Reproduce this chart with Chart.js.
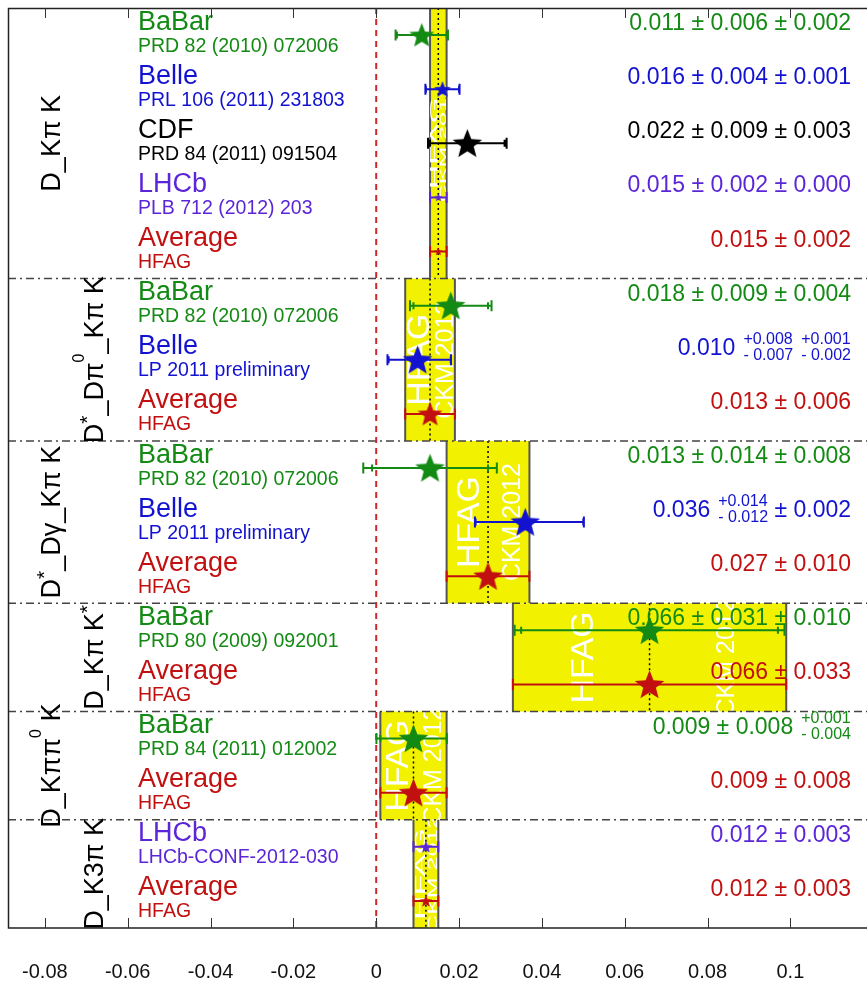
<!DOCTYPE html>
<html><head><meta charset="utf-8">
<script src="https://cdn.jsdelivr.net/npm/chart.js@4.4.1/dist/chart.umd.min.js"></script>
<style>html,body{margin:0;padding:0;background:#fff;} canvas{display:block;}</style>
</head><body>
<canvas id="c" width="867" height="987"></canvas>
<script>
// ---------------- data ----------------
const groupLabels = ['D_Kπ K','D^{*}_Dπ^{0}_Kπ K','D^{*}_Dγ_Kπ K','D_Kπ K^{*}','D_Kππ^{0} K','D_K3π K'];
const groupSizes  = [5,3,3,2,2,2];
const experiments = ['BaBar','Belle','CDF','LHCb','Average','BaBar','Belle','Average','BaBar','Belle','Average','BaBar','Average','BaBar','Average','LHCb','Average'];
const references  = ['PRD 82 (2010) 072006','PRL 106 (2011) 231803','PRD 84 (2011) 091504','PLB 712 (2012) 203','HFAG',
                     'PRD 82 (2010) 072006','LP 2011 preliminary','HFAG',
                     'PRD 82 (2010) 072006','LP 2011 preliminary','HFAG',
                     'PRD 80 (2009) 092001','HFAG',
                     'PRD 84 (2011) 012002','HFAG',
                     'LHCb-CONF-2012-030','HFAG'];
const values    = [0.011,0.016,0.022,0.015,0.015, 0.018,0.010,0.013, 0.013,0.036,0.027, 0.066,0.066, 0.009,0.009, 0.012,0.012];
const statPlus  = [0.006,0.004,0.009,0.002,0.002, 0.009,0.008,0.006, 0.014,0.014,0.010, 0.031,0.033, 0.008,0.008, 0.003,0.003];
const statMinus = [0.006,0.004,0.009,0.002,0.002, 0.009,0.007,0.006, 0.014,0.012,0.010, 0.031,0.033, 0.008,0.008, 0.003,0.003];
const systPlus  = [0.002,0.001,0.003,0.000,null, 0.004,0.001,null, 0.008,0.002,null, 0.010,null, 0.001,null, null,null];
const systMinus = [0.002,0.001,0.003,0.000,null, 0.004,0.002,null, 0.008,0.002,null, 0.010,null, 0.004,null, null,null];
const bandTexts = ['HFAG','CKM 2012'];
const tickValues = [-0.08,-0.06,-0.04,-0.02,0,0.02,0.04,0.06,0.08,0.1];
const tickLabels = ['-0.08','-0.06','-0.04','-0.02','0','0.02','0.04','0.06','0.08','0.1'];
const xRange = [-0.0889, 0.1185];

// ---------------- styles ----------------
const COLORS = {BaBar:'#138a13', Belle:'#1212d0', CDF:'#000000', LHCb:'#5a26d8', Average:'#c21010'};
const FONT = '"Liberation Sans", Arial, sans-serif';
const nRows = values.length;

const starCache = {};
function starCanvas(color, d){
  const key = color + '_' + d.toFixed(1);
  if (starCache[key]) return starCache[key];
  const s = Math.ceil(d) + 4;
  const c = document.createElement('canvas');
  c.width = s; c.height = s;
  const g = c.getContext('2d');
  const R = d/2, r = R*0.43, cx = s/2, cy = s/2 + R*0.08;
  g.beginPath();
  for (let k=0;k<10;k++){
    const rad = k%2===0 ? R : r;
    const a = -Math.PI/2 + k*Math.PI/5;
    const px = cx + rad*Math.cos(a), py = cy + rad*Math.sin(a);
    k===0 ? g.moveTo(px,py) : g.lineTo(px,py);
  }
  g.closePath(); g.fillStyle = color; g.fill();
  starCache[key] = c;
  return c;
}

function totErr(i, plus){
  const s = plus ? statPlus[i] : statMinus[i];
  const y = plus ? systPlus[i] : systMinus[i];
  return Math.sqrt(s*s + (y===null?0:y*y));
}

function parseRich(s){
  const out=[]; const re=/\^\{([^}]*)\}/g; let last=0, m;
  while((m=re.exec(s))){ if(m.index>last) out.push({t:s.slice(last,m.index),sup:false}); out.push({t:m[1],sup:true}); last=re.lastIndex; }
  if(last<s.length) out.push({t:s.slice(last),sup:false});
  return out;
}

function groupStarts(){ const st=[]; let a=0; groupSizes.forEach(n=>{st.push(a); a+=n;}); return st; }

function drawValueText(ctx, i, xRight, yBase, color){
  const big = '23px ' + FONT, small = '16px ' + FONT;
  const segs = [{type:'t', s: values[i].toFixed(3)}];
  const errs = [[statPlus[i], statMinus[i]]];
  if (systPlus[i] !== null) errs.push([systPlus[i], systMinus[i]]);
  errs.forEach(e=>{
    if (e[0] === e[1]) segs.push({type:'t', s:' \u00b1 ' + e[0].toFixed(3)});
    else segs.push({type:'st', up:'+' + e[0].toFixed(3), dn:'- ' + e[1].toFixed(3)});
  });
  let total = 0;
  segs.forEach(sg=>{
    if (sg.type==='t'){ ctx.font = big; sg.w = ctx.measureText(sg.s).width; }
    else { ctx.font = small; sg.w = 8 + Math.max(ctx.measureText(sg.up).width, ctx.measureText(sg.dn).width); }
    total += sg.w;
  });
  let xx = xRight - total;
  ctx.fillStyle = color; ctx.textAlign = 'left'; ctx.textBaseline = 'alphabetic';
  segs.forEach(sg=>{
    if (sg.type==='t'){ ctx.font = big; ctx.fillText(sg.s, xx, yBase); }
    else { ctx.font = small; ctx.fillText(sg.up, xx+8, yBase-11); ctx.fillText(sg.dn, xx+8, yBase+5); }
    xx += sg.w;
  });
}

const hfagPlugin = {
  id:'hfag',
  beforeDatasetsDraw(chart){
    const {ctx, chartArea:ca, scales:{x, y}} = chart;
    ctx.save();
    ctx.beginPath(); ctx.rect(ca.left, ca.top, ca.right-ca.left, ca.bottom-ca.top); ctx.clip();
    const starts = groupStarts();
    // bands
    starts.forEach((st,g)=>{
      const n = groupSizes[g], ai = st + n - 1;
      const x0 = x.getPixelForValue(values[ai]-statMinus[ai]);
      const x1 = x.getPixelForValue(values[ai]+statPlus[ai]);
      const xc = x.getPixelForValue(values[ai]);
      const y0 = y.getPixelForValue(st), y1 = y.getPixelForValue(st+n);
      ctx.fillStyle = '#f2f200';
      ctx.fillRect(x0, y0, x1-x0, y1-y0);
      ctx.strokeStyle = '#555'; ctx.lineWidth = 2; ctx.setLineDash([]);
      ctx.beginPath(); ctx.moveTo(x0,y0); ctx.lineTo(x0,y1); ctx.moveTo(x1,y0); ctx.lineTo(x1,y1); ctx.stroke();
      // band texts
      const w = x1-x0;
      ctx.save();
      ctx.beginPath(); ctx.rect(x0, y0, w, y1-y0); ctx.clip();
      ctx.fillStyle = '#ffffff';
      const specs = [
        {t:bandTexts[0], size:Math.max(10, Math.min(32, w*0.62)), cx:xc - 0.5*w/2, L:92},
        {t:bandTexts[1], size:Math.max(9, Math.min(25, w*0.5)), cx:xc + 0.55*w/2, L:118}
      ];
      specs.forEach(sp=>{
        ctx.save();
        ctx.font = sp.size.toFixed(1) + 'px ' + FONT;
        const mw = ctx.measureText(sp.t).width;
        const cap = sp.size*0.72;
        ctx.translate(sp.cx + cap/2, (y0+y1)/2);
        ctx.rotate(-Math.PI/2);
        ctx.scale(sp.L/mw, 1);
        ctx.textAlign = 'center'; ctx.textBaseline = 'alphabetic';
        ctx.fillText(sp.t, 0, 0);
        ctx.restore();
      });
      ctx.restore();
      // dotted centre line
      ctx.strokeStyle = '#000'; ctx.lineWidth = 1.5; ctx.setLineDash([2,3]);
      ctx.beginPath(); ctx.moveTo(xc,y0); ctx.lineTo(xc,y1); ctx.stroke();
    });
    // separators
    ctx.strokeStyle = '#444'; ctx.lineWidth = 1.5; ctx.setLineDash([8,4,2,4]);
    starts.slice(1).forEach(st=>{
      const yy = y.getPixelForValue(st);
      ctx.beginPath(); ctx.moveTo(ca.left, yy); ctx.lineTo(ca.right, yy); ctx.stroke();
    });
    // zero line
    const x0p = x.getPixelForValue(0);
    ctx.strokeStyle = '#d02828'; ctx.lineWidth = 2; ctx.setLineDash([6,5]);
    ctx.beginPath(); ctx.moveTo(x0p, ca.top); ctx.lineTo(x0p, ca.bottom); ctx.stroke();
    ctx.setLineDash([]);
    // error bars
    for (let i=0;i<nRows;i++){
      const col = COLORS[experiments[i]];
      const yy = y.getPixelForValue(i+0.5);
      const xl = x.getPixelForValue(values[i]-totErr(i,false));
      const xr = x.getPixelForValue(values[i]+totErr(i,true));
      const sl = x.getPixelForValue(values[i]-statMinus[i]);
      const sr = x.getPixelForValue(values[i]+statPlus[i]);
      ctx.strokeStyle = col; ctx.lineWidth = 2;
      ctx.beginPath();
      ctx.moveTo(xl,yy); ctx.lineTo(xr,yy);
      ctx.moveTo(xl,yy-5.5); ctx.lineTo(xl,yy+5.5);
      ctx.moveTo(xr,yy-5.5); ctx.lineTo(xr,yy+5.5);
      ctx.moveTo(sl,yy-3.5); ctx.lineTo(sl,yy+3.5);
      ctx.moveTo(sr,yy-3.5); ctx.lineTo(sr,yy+3.5);
      ctx.stroke();
    }
    ctx.restore();
  },
  afterDatasetsDraw(chart){
    const {ctx, chartArea:ca, scales:{x, y}} = chart;
    ctx.save();
    ctx.beginPath(); ctx.rect(ca.left, ca.top, ca.right-ca.left, ca.bottom-ca.top); ctx.clip();
    for (let i=0;i<nRows;i++){
      const col = COLORS[experiments[i]];
      const yc = y.getPixelForValue(i+0.5);
      ctx.fillStyle = col; ctx.textAlign='left'; ctx.textBaseline='alphabetic';
      ctx.font = '27px ' + FONT; ctx.fillText(experiments[i], 138, yc-5.5);
      ctx.font = '19.5px ' + FONT; ctx.fillText(references[i], 138, yc+16.5);
      drawValueText(ctx, i, 851, yc-5, col);
    }
    ctx.restore();
    // group labels (rotated)
    const starts = groupStarts();
    starts.forEach((st,g)=>{
      const yc = (y.getPixelForValue(st) + y.getPixelForValue(st+groupSizes[g]))/2;
      const xb = g%2===0 ? 60 : 103;
      const parts = parseRich(groupLabels[g]);
      const bigF = '27px ' + FONT;
      let tw = 0;
      parts.forEach(p=>{
        p.font = p.sup ? (p.t==='*' ? '21px ' : '16px ') + FONT : bigF;
        p.dy = p.sup ? (p.t==='*' ? -9 : -19) : 0;
        ctx.font = p.font; p.w = ctx.measureText(p.t).width; tw += p.w;
      });
      ctx.save();
      ctx.translate(xb, yc); ctx.rotate(-Math.PI/2);
      ctx.fillStyle = '#000'; ctx.textAlign='left'; ctx.textBaseline='alphabetic';
      let xx = -tw/2;
      parts.forEach(p=>{
        ctx.font = p.font;
        ctx.fillText(p.t, xx, p.dy);
        xx += p.w;
      });
      ctx.restore();
    });
  },
  afterDraw(chart){
    const {ctx, chartArea:ca, scales:{x}} = chart;
    ctx.save();
    ctx.strokeStyle = '#222'; ctx.lineWidth = 1.5;
    ctx.beginPath();
    ctx.moveTo(ca.right, ca.top+0.5); ctx.lineTo(ca.left+0.5, ca.top+0.5); ctx.lineTo(ca.left+0.5, ca.bottom); ctx.lineTo(ca.right, ca.bottom);
    ctx.stroke();
    ctx.lineWidth = 1; ctx.strokeStyle = '#333';
    tickValues.forEach(v=>{
      const px = Math.round(x.getPixelForValue(v))+0.5;
      ctx.beginPath();
      ctx.moveTo(px, ca.top); ctx.lineTo(px, ca.top+10);
      ctx.moveTo(px, ca.bottom); ctx.lineTo(px, ca.bottom-10);
      ctx.stroke();
    });
    ctx.restore();
  }
};

const rowPoints = values.map((v,i)=>({x:v, y:i+0.5}));

new Chart(document.getElementById('c'), {
  type:'scatter',
  data:{ datasets:[{
    data: rowPoints,
    showLine:false,
    pointStyle: (ctx)=>{
      const i = ctx.dataIndex;
      const xs = ctx.chart.scales.x;
      const errPx = Math.abs(xs.getPixelForValue((statPlus[i]+statMinus[i])/2) - xs.getPixelForValue(0));
      const d = Math.max(8.5, Math.min(31, errPx*1.05));
      return starCanvas(COLORS[experiments[i]], d);
    },
    pointRadius: 6,
    pointHoverRadius: 6
  }]},
  options:{
    responsive:false,
    animation:false,
    devicePixelRatio:1,
    layout:{autoPadding:false, padding:{left:8, top:8, right:0, bottom:0}},
    plugins:{legend:{display:false}, tooltip:{enabled:false}},
    scales:{
      x:{
        type:'linear', min:xRange[0], max:xRange[1],
        afterBuildTicks:(s)=>{ s.ticks = tickValues.map(v=>({value:v})); },
        afterFit:(s)=>{ s.height = 59; s.paddingLeft = 0; s.paddingRight = 0; },
        grid:{display:false}, border:{display:false},
        ticks:{ padding:24, color:'#111', font:{family:'Liberation Sans', size:20},
          callback:(v)=>{ const k = tickValues.findIndex(t=>Math.abs(t-v)<1e-9); return k>=0 ? tickLabels[k] : ''; },
          maxRotation:0, autoSkip:false }
      },
      y:{ type:'linear', min:0, max:nRows, reverse:true, display:false }
    }
  },
  plugins:[hfagPlugin]
});
</script>
</body></html>
